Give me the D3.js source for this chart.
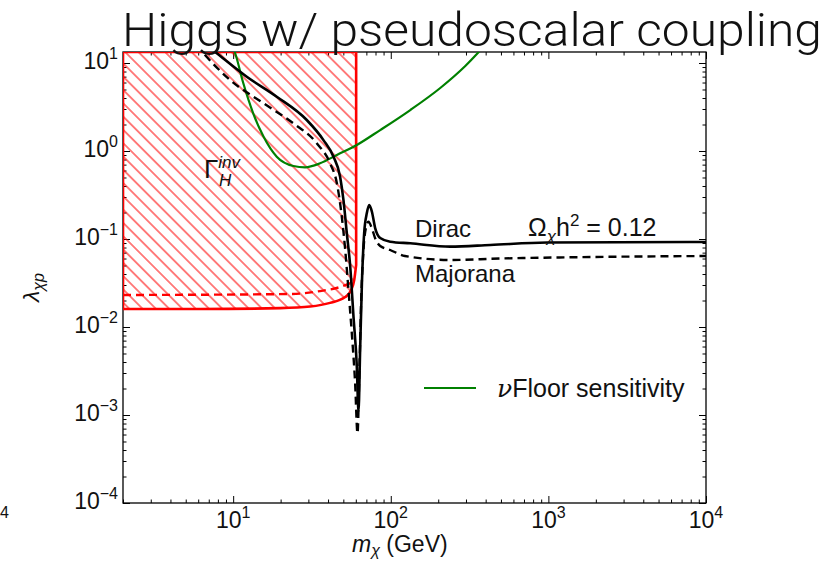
<!DOCTYPE html>
<html><head><meta charset="utf-8">
<script src="https://cdn.jsdelivr.net/npm/d3@7"></script>
<style>body{margin:0;background:#fff} svg{display:block}</style>
</head><body><svg id="c" width="827" height="562"></svg>
<script>
// ---------- data ----------
const diracMass   = [6.17, 7.87, 12.2, 18.9, 29.3, 37.4, 43.3, 47.7, 50.1, 52.6, 55.3, 58.0, 60.9, 62.4, 63.9, 65.6, 67.8, 70.5, 73.0, 75.9, 79.6, 85.7, 99.1, 133, 238, 428, 984, 10000];
const diracLambda = [18.2, 12.9, 6.98, 4.14, 2.25, 1.33, 0.861, 0.511, 0.277, 0.117, 0.0484, 0.0131, 0.00354, 0.0011, 0.00548, 0.0316, 0.117, 0.197, 0.243, 0.204, 0.133, 0.1025, 0.0931, 0.0893, 0.0819, 0.0855, 0.0912, 0.0925];

const majoranaMass   = [5.82, 6.47, 9.56, 15.6, 24.1, 34.0, 41.2, 45.5, 48.9, 51.4, 53.9, 56.6, 59.4, 61.5, 63.3, 64.9, 67.1, 69.8, 72.2, 75.9, 79.6, 85.7, 99.1, 123, 238, 495, 1318, 10000];
const majoranaLambda = [16.0, 12.9, 6.41, 3.48, 2.06, 1.22, 0.725, 0.430, 0.179, 0.075, 0.0263, 0.00847, 0.00231, 0.00062, 0.00354, 0.0203, 0.075, 0.138, 0.157, 0.132, 0.102, 0.0832, 0.075, 0.0641, 0.0577, 0.060, 0.0619, 0.0641];

const floorMass   = [9.84, 10.3, 11.6, 13.4, 15.6, 18.9, 24.1, 28.6, 35.6, 45.5, 60.9, 85.7, 133, 206, 297, 397];
const floorLambda = [16.0, 12.9, 5.88, 2.68, 1.45, 0.861, 0.676, 0.653, 0.724, 0.901, 1.17, 1.73, 2.92, 5.20, 9.25, 16.0];

const invBoundMass   = [2, 6.17, 19.9, 30.8, 41.2, 51.4, 56.1, 58.6, 60.3];
const invBoundLambda = [0.0160, 0.0160, 0.0164, 0.0171, 0.0188, 0.0219, 0.0263, 0.0342, 0.0507];
const invEdgeMass = 60.3;

const invDashMass   = [2, 23.0, 35.6, 47.7, 55.3];
const invDashLambda = [0.0231, 0.0237, 0.0256, 0.0285, 0.0316];

const xMajor = [10, 100, 1000, 10000];
const xMajorExp = ["1", "2", "3", "4"];
const yMajor = [1e-4, 1e-3, 1e-2, 1e-1, 1, 10];
const yMajorExp = ["\u22124", "\u22123", "\u22122", "\u22121", "0", "1"];

const xDomain = [2, 1e4];
const yDomain = [1e-4, Math.pow(10, 1.125)];

// ---------- layout ----------
const L = 123, R = 706, T = 52, B = 503;
const svg = d3.select("#c");
const x = d3.scaleLog().domain(xDomain).range([L, R]);
const y = d3.scaleLog().domain(yDomain).range([B, T]);

const defs = svg.append("defs");
defs.append("clipPath").attr("id", "clip").append("rect")
  .attr("x", L).attr("y", T).attr("width", R - L).attr("height", B - T);
const pat = defs.append("pattern").attr("id", "hatch")
  .attr("patternUnits", "userSpaceOnUse").attr("width", 20).attr("height", 9.4)
  .attr("patternTransform", "rotate(45)");
pat.append("line").attr("x1", 0).attr("y1", 4.7).attr("x2", 20).attr("y2", 4.7)
  .attr("stroke", "#ff0000").attr("stroke-width", 1);

function minors(domain) {
  const out = [];
  for (let e = -5; e <= 5; e++) for (let k = 2; k <= 9; k++) {
    const v = k * Math.pow(10, e);
    if (v >= domain[0] * 0.999 && v <= domain[1] * 1.001) out.push(v);
  }
  return out;
}
const xMinor = minors(xDomain), yMinor = minors(yDomain);

// ---------- frame & ticks ----------
const axG = svg.append("g");
function drawAxis(gen, tf, vals, size) {
  const g = axG.append("g").attr("transform", tf)
    .call(gen.tickValues(vals).tickSize(-size).tickFormat(""));
  g.select(".domain").remove();
  g.selectAll("line").attr("stroke", "#000").attr("stroke-width", 1);
}
[[xMajor, 7], [xMinor, 3.5]].forEach(([v, s]) => {
  drawAxis(d3.axisBottom(x), `translate(0,${B})`, v, s);
  drawAxis(d3.axisTop(x), `translate(0,${T})`, v, s);
});
[[yMajor, 7], [yMinor, 3.5]].forEach(([v, s]) => {
  drawAxis(d3.axisLeft(y), `translate(${L},0)`, v, s);
  drawAxis(d3.axisRight(y), `translate(${R},0)`, v, s);
});
svg.append("rect").attr("x", L).attr("y", T).attr("width", R - L).attr("height", B - T)
  .attr("fill", "none").attr("stroke", "#000").attr("stroke-width", 1.3);

// ---------- curves ----------
const plot = svg.append("g").attr("clip-path", "url(#clip)");
const line = d3.line().x(d => x(d[0])).y(d => y(d[1])).curve(d3.curveMonotoneX);
const zip = (a, b) => a.map((v, i) => [v, b[i]]);

const boundPath = line(zip(invBoundMass, invBoundLambda)) +
  `L${x(invEdgeMass)},${y(yDomain[1])}L${x(xDomain[0])},${y(yDomain[1])}Z`;
plot.append("path").attr("d", boundPath).attr("fill", "url(#hatch)").attr("stroke", "none");
plot.append("path").attr("d", boundPath).attr("fill", "none")
  .attr("stroke", "#ff0000").attr("stroke-width", 2.6);
plot.append("path").attr("d", line(zip(invDashMass, invDashLambda))).attr("fill", "none")
  .attr("stroke", "#ff0000").attr("stroke-width", 2.4).attr("stroke-dasharray", "8,5");

plot.append("path").attr("d", line(zip(floorMass, floorLambda))).attr("fill", "none")
  .attr("stroke", "#008000").attr("stroke-width", 2.2);
plot.append("path").attr("d", line(zip(majoranaMass, majoranaLambda))).attr("fill", "none")
  .attr("stroke", "#000").attr("stroke-width", 2.4).attr("stroke-dasharray", "8,5");
plot.append("path").attr("d", line(zip(diracMass, diracLambda))).attr("fill", "none")
  .attr("stroke", "#000").attr("stroke-width", 2.6);

// ---------- text ----------
const FONT = "'Liberation Sans', Arial, Helvetica, sans-serif";
const tx = svg.append("g").attr("font-family", FONT).attr("fill", "#111");

xMajor.forEach((v, i) => {
  const t = tx.append("text").attr("x", x(v)).attr("y", B + 25)
    .attr("text-anchor", "middle").attr("font-size", 23).text("10");
  t.append("tspan").attr("dy", -10).attr("font-size", 16).text(xMajorExp[i]);
});
yMajor.forEach((v, i) => {
  const t = tx.append("text").attr("x", 118).attr("y", y(v) + 6)
    .attr("text-anchor", "end").attr("font-size", 23).text("10");
  t.append("tspan").attr("dy", -10).attr("font-size", 16).text(yMajorExp[i]);
});

// stray fragment at the left edge
tx.append("text").attr("x", 0).attr("y", 518).attr("font-size", 16).text("4");

// title
svg.append("text").attr("x", 122).attr("y", 46)
  .attr("font-family", "Roboto, 'Liberation Sans', sans-serif").attr("font-weight", 300)
  .attr("font-size", 47).attr("fill", "#111")
  .attr("textLength", 700).attr("lengthAdjust", "spacingAndGlyphs")
  .text("Higgs w/ pseudoscalar coupling");

// x label
const xl = tx.append("text").attr("x", 352).attr("y", 552).attr("font-size", 23);
xl.append("tspan").attr("font-style", "italic").text("m");
xl.append("tspan").attr("font-style", "italic").attr("font-size", 16).attr("dy", 4).text("\u03c7");
xl.append("tspan").attr("dy", -4).text(" (GeV)");

// y label
const yl = tx.append("text").attr("transform", "translate(39,302) rotate(-90)").attr("font-size", 23);
yl.append("tspan").attr("font-style", "italic").text("\u03bb");
yl.append("tspan").attr("font-style", "italic").attr("font-size", 16).attr("dy", 5).text("\u03c7p");

// annotations
tx.append("text").attr("x", 415).attr("y", 237).attr("font-size", 24).text("Dirac");
tx.append("text").attr("x", 415).attr("y", 282).attr("font-size", 24).text("Majorana");
const om = tx.append("text").attr("x", 528).attr("y", 236).attr("font-size", 25);
om.append("tspan").text("\u03a9");
om.append("tspan").attr("font-style", "italic").attr("font-size", 17).attr("dy", 6).text("\u03c7");
om.append("tspan").attr("dy", -6).text("h");
om.append("tspan").attr("dy", -10).attr("font-size", 17).text("2");
om.append("tspan").attr("dy", 10).text(" = 0.12");

const gm = tx.append("text").attr("x", 204).attr("y", 178).attr("font-size", 26);
gm.append("tspan").text("\u0393");
gm.append("tspan").attr("font-style", "italic").attr("font-size", 17).attr("dy", -10).text("inv");
gm.append("tspan").attr("font-style", "italic").attr("font-size", 17)
  .attr("x", 219).attr("dy", 18).text("H");

// legend
svg.append("line").attr("x1", 424).attr("x2", 476).attr("y1", 388).attr("y2", 388)
  .attr("stroke", "#008000").attr("stroke-width", 2.2);
const lg = tx.append("text").attr("x", 497).attr("y", 397).attr("font-size", 25);
lg.append("tspan").attr("font-style", "italic").attr("font-family", "'DejaVu Serif', serif").text("\u03bd");
lg.append("tspan").text("Floor sensitivity");
</script>
</body></html>
